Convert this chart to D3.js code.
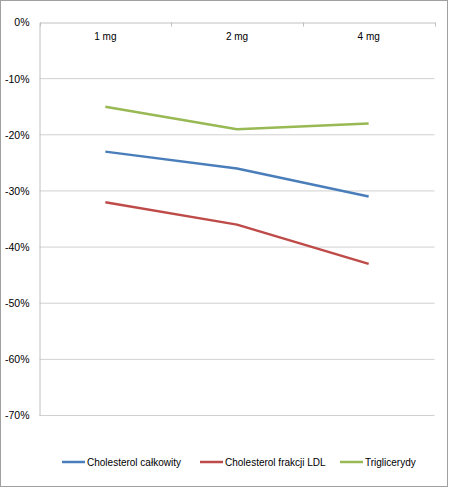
<!DOCTYPE html>
<html><head><meta charset="utf-8">
<script src="https://cdn.jsdelivr.net/npm/d3@7"></script>
<style>body{margin:0;background:#fff;} svg{display:block;font-family:"Liberation Sans",Arial,sans-serif;}</style>
</head><body>
<svg id="c" width="450" height="488"></svg>
<script>
const categories = ["1 mg", "2 mg", "4 mg"];
const seriesNames = ["Cholesterol całkowity", "Cholesterol frakcji LDL", "Triglicerydy"];
const seriesColors = ["#4a7ebb", "#be4b48", "#98b954"];
const totalChol = [-23, -26, -31];
const ldlChol = [-32, -36, -43];
const trigl = [-15, -19, -18];
const yTicks = [0, -10, -20, -30, -40, -50, -60, -70];

const series = [totalChol, ldlChol, trigl];
const svg = d3.select("#c");
svg.append("rect").attr("x",0.5).attr("y",0.5).attr("width",447).attr("height",486)
  .attr("fill","#fff").attr("stroke","#a0a0a0");

const x = d3.scaleBand().domain(categories).range([39.5, 434.5]);
const y = d3.scaleLinear().domain([-70, 0]).range([415.5, 22.5]);

// gridlines
svg.append("g").selectAll("line").data(yTicks.filter(d=>d!==0)).join("line")
  .attr("x1",39.5).attr("x2",434.5).attr("y1",d=>y(d)).attr("y2",d=>y(d))
  .attr("stroke","#d0d0d0").attr("stroke-width",1);

// y axis
const yAxis = d3.axisLeft(y).tickValues(yTicks).tickSize(0).tickPadding(10).tickFormat(d=>d+"%");
const yg = svg.append("g").attr("transform","translate(39.5,0)").call(yAxis);
yg.select(".domain").attr("stroke","#c0c0c0");
yg.selectAll("text").attr("font-size",10.5).attr("fill","#000").attr("font-family","Liberation Sans, Arial, sans-serif");

// x axis at top (0%)
const xAxis = d3.axisBottom(x).tickSize(0).tickPadding(10);
const xg = svg.append("g").attr("transform",`translate(0,${y(0)})`).call(xAxis);
xg.select(".domain").attr("stroke","#c0c0c0");
xg.selectAll("text").attr("font-size",10).attr("fill","#000").attr("font-family","Liberation Sans, Arial, sans-serif");
// tick marks at band boundaries
const bounds = categories.map(c=>x(c)).concat([x(categories[categories.length-1])+x.bandwidth()]);
svg.append("g").selectAll("line").data(bounds).join("line")
  .attr("x1",d=>Math.round(d)+0.5).attr("x2",d=>Math.round(d)+0.5)
  .attr("y1",y(0)).attr("y2",y(0)+4).attr("stroke","#c0c0c0");

// lines
const line = d3.line().x((d,i)=>x(categories[i])+x.bandwidth()/2).y(d=>y(d));
svg.append("g").selectAll("path").data(series).join("path")
  .attr("d",d=>line(d)).attr("fill","none")
  .attr("stroke",(d,i)=>seriesColors[i]).attr("stroke-width",2.5).attr("stroke-linejoin","round");

// legend
const legX = [62, 200, 340];
const lg = svg.append("g").selectAll("g").data(seriesNames).join("g")
  .attr("transform",(d,i)=>`translate(${legX[i]},462)`);
lg.append("line").attr("x1",0).attr("x2",23).attr("y1",0).attr("y2",0)
  .attr("stroke",(d,i)=>seriesColors[i]).attr("stroke-width",2.5);
lg.append("text").attr("x",25).attr("y",0).attr("dy","0.35em")
  .attr("font-size",10).text(d=>d);
</script>
</body></html>
